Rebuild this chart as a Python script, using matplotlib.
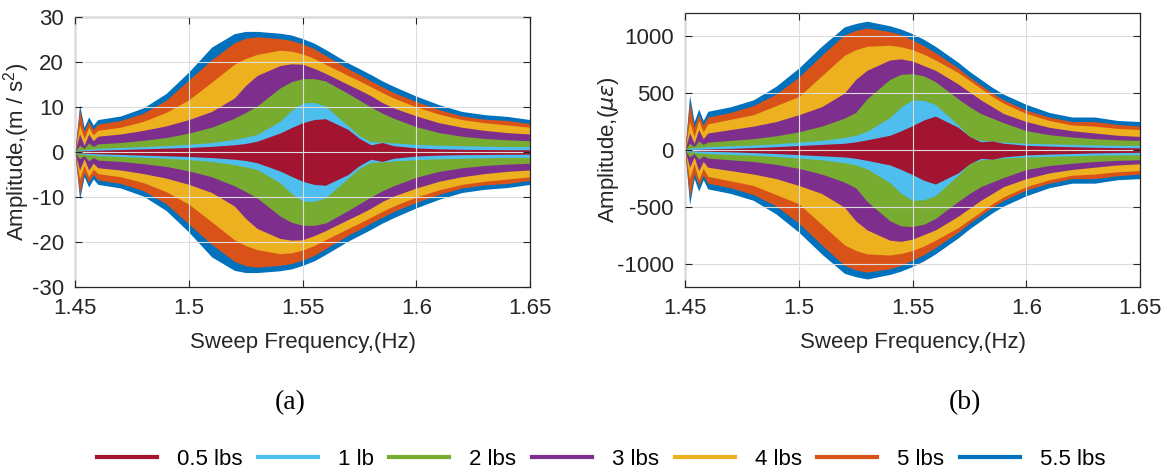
import numpy as np
import matplotlib.pyplot as plt

plt.rcParams['font.family'] = ['Liberation Sans', 'DejaVu Sans']
plt.rcParams['axes.unicode_minus'] = False

# sweep frequency grid (Hz)
freq = [1.450, 1.452, 1.454, 1.456, 1.458, 1.460, 1.470, 1.480, 1.490, 1.500,
        1.510, 1.520, 1.525, 1.530, 1.540, 1.545, 1.550, 1.555, 1.560, 1.570,
        1.575, 1.580, 1.585, 1.590, 1.600, 1.610, 1.620, 1.630, 1.640, 1.650]

labels = ['0.5 lbs', '1 lb', '2 lbs', '3 lbs', '4 lbs', '5 lbs', '5.5 lbs']
colors = ['#A2142F', '#4DBEEE', '#77AC30', '#7E2F8E', '#EDB120', '#D95319', '#0072BD']

# (a) acceleration envelope, m/s^2
acc_05 = [0.1, 0.2, 0.25, 0.3, 0.35, 0.4, 0.55, 0.7, 0.85, 1.0, 1.25, 1.6, 1.9, 2.4, 4.2, 5.4,
          6.5, 7.2, 7.4, 5.0, 3.0, 1.6, 2.1, 1.4, 0.9, 0.7, 0.6, 0.55, 0.5, 0.5]
acc_1 = [0.1, 0.4, 0.5, 0.6, 0.7, 0.8, 1.0, 1.2, 1.4, 1.7, 2.1, 2.8, 3.3, 3.9, 6.8, 9.2,
         10.9, 11.0, 10.2, 5.8, 3.6, 2.3, 2.2, 2.0, 1.7, 1.5, 1.4, 1.3, 1.2, 1.2]
acc_2 = [0.1, 1.5, 0.8, 2.0, 1.2, 1.8, 2.1, 2.6, 3.2, 4.2, 5.5, 7.5, 8.8, 10.2, 14.2, 15.6,
         16.3, 16.3, 15.8, 13.0, 11.5, 10.0, 8.6, 7.5, 5.6, 4.3, 3.5, 3.0, 2.7, 2.5]
acc_3 = [0.2, 4.0, 1.5, 4.0, 2.5, 3.5, 4.0, 4.8, 5.8, 7.2, 9.0, 12.0, 14.8, 17.0, 19.2, 19.6,
         19.5, 18.6, 17.5, 15.0, 13.8, 12.5, 11.0, 9.8, 8.0, 6.5, 5.5, 4.8, 4.3, 4.0]
acc_4 = [0.3, 6.0, 3.0, 5.5, 3.8, 4.8, 5.5, 6.8, 8.8, 11.6, 15.5, 19.5, 20.8, 21.7, 22.6, 22.4,
         21.8, 20.8, 19.5, 17.0, 15.8, 14.5, 13.2, 12.0, 10.0, 8.4, 7.2, 6.5, 6.0, 5.5]
acc_5 = [0.4, 9.5, 4.5, 6.8, 5.0, 6.2, 7.0, 8.6, 11.5, 16.0, 20.5, 24.3, 25.3, 25.6, 25.2, 24.8,
         24.0, 23.0, 21.5, 18.5, 17.2, 15.8, 14.5, 13.2, 11.2, 9.4, 8.0, 7.3, 7.0, 6.3]
acc_55 = [0.5, 10.5, 5.5, 7.8, 6.0, 7.2, 8.0, 9.8, 13.0, 17.8, 23.3, 26.3, 26.8, 26.8, 26.4, 26.0,
          25.2, 24.2, 22.8, 19.8, 18.5, 17.2, 15.8, 14.6, 12.4, 10.5, 9.0, 8.3, 7.9, 7.2]

# (b) strain envelope, micro-strain
str_05 = [1, 5, 6, 8, 9, 10, 15, 22, 30, 40, 50, 60, 72, 90, 130, 170,
          215, 265, 298, 200, 120, 72, 80, 60, 42, 35, 30, 25, 22, 20]
str_1 = [1, 15, 20, 25, 28, 30, 38, 45, 55, 70, 85, 110, 130, 165, 285, 380,
         440, 435, 400, 220, 120, 85, 80, 70, 60, 55, 50, 45, 42, 40]
str_2 = [2, 60, 30, 80, 50, 70, 85, 100, 125, 160, 210, 280, 330, 450, 620, 665,
         670, 650, 600, 450, 380, 320, 280, 240, 170, 135, 115, 100, 90, 85]
str_3 = [4, 150, 60, 180, 100, 150, 180, 210, 250, 310, 380, 500, 620, 700, 790, 800,
         780, 740, 700, 580, 510, 440, 380, 320, 250, 200, 170, 150, 130, 120]
str_4 = [6, 250, 120, 260, 160, 230, 270, 310, 390, 470, 650, 830, 880, 910, 920, 905,
         880, 840, 790, 680, 610, 540, 470, 410, 320, 260, 220, 210, 190, 180]
str_5 = [8, 420, 200, 310, 220, 290, 330, 390, 490, 640, 830, 1010, 1050, 1070, 1040, 1010,
         965, 915, 855, 720, 640, 570, 500, 440, 350, 290, 250, 250, 225, 210]
str_55 = [10, 480, 250, 360, 260, 340, 380, 440, 560, 720, 910, 1080, 1110, 1130, 1090, 1060,
          1020, 970, 910, 770, 690, 620, 550, 490, 400, 330, 290, 290, 260, 250]

acc = [acc_05, acc_1, acc_2, acc_3, acc_4, acc_5, acc_55]
strain = [str_05, str_1, str_2, str_3, str_4, str_5, str_55]

fig = plt.figure(figsize=(11.67, 4.72), dpi=100)
ax1 = fig.add_axes([0.0643, 0.392, 0.390, 0.572])
ax2 = fig.add_axes([0.587, 0.392, 0.390, 0.580])

f = np.array(freq)
for ax, data in [(ax1, acc), (ax2, strain)]:
    # biggest load first so the smaller envelopes sit on top
    for k in range(6, -1, -1):
        v = np.array(data[k])
        ax.fill_between(f, -v, v, color=colors[k], lw=0)
    ax.set_xlim(1.45, 1.65)
    ax.set_xticks([1.45, 1.5, 1.55, 1.6, 1.65])
    ax.set_xticklabels(['1.45', '1.5', '1.55', '1.6', '1.65'])
    ax.grid(color='#dddddd', lw=0.8)
    ax.set_axisbelow(False)
    ax.tick_params(direction='in', top=True, right=True, labelsize=16,
                   colors='#262626', length=5, pad=8)
    for s in ax.spines.values():
        s.set_color('#262626')
        s.set_linewidth(0.9)
    ax.set_xlabel('Sweep Frequency,(Hz)', fontsize=16, color='#262626', labelpad=9)

ax1.set_ylim(-30, 30)
ax1.set_yticks([-30, -20, -10, 0, 10, 20, 30])
ax1.set_ylabel('Amplitude,(m / s$^\\mathregular{2}$)', fontsize=16, color='#262626')
ax1.yaxis.set_label_coords(-0.095, 0.5)

ax2.set_ylim(-1200, 1200)
ax2.set_yticks([-1000, -500, 0, 500, 1000])
ax2.set_ylabel('Amplitude,($\\mu\\epsilon$)', fontsize=16, color='#262626')
ax2.yaxis.set_label_coords(-0.14, 0.5)

fig.text(0.2485, 0.148, '(a)', fontsize=20, family='Liberation Serif', ha='center', va='center')
fig.text(0.827, 0.148, '(b)', fontsize=20, family='Liberation Serif', ha='center', va='center')

handles = [plt.Line2D([], [], color=c, lw=3) for c in colors]
fig.legend(handles, labels, loc='center', bbox_to_anchor=(0.515, 0.027), ncol=7,
           frameon=False, fontsize=16, handlelength=2.7, handletextpad=0.9,
           columnspacing=0.7)

fig.savefig('out.png', dpi=100)
